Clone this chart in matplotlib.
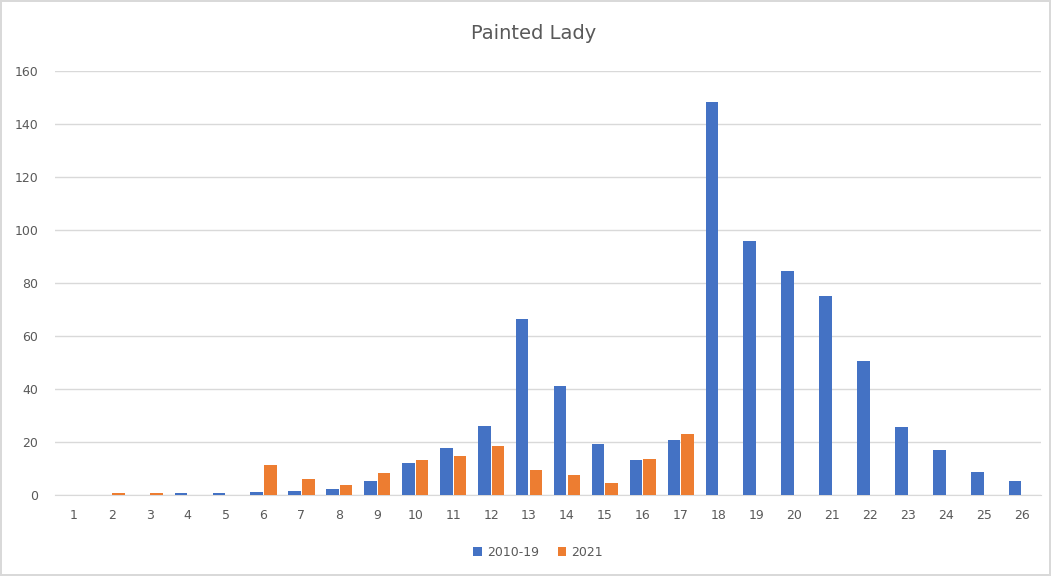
import matplotlib.pyplot as plt
import numpy as np

weeks = [str(i) for i in range(1, 27)]
avg_2010_19 = [0, 0, 0, 0.8, 0.8, 1.2, 1.6, 2.1, 5.2, 12.2, 17.9, 25.9, 66.5, 41.0,
               19.3, 13.2, 20.8, 148.2, 95.9, 84.7, 75.2, 50.5, 25.8, 16.8, 8.8, 5.3]
year_2021 = [0, 0.8, 0.8, 0, 0, 11.3, 6.2, 3.6, 8.2, 13.2, 14.9, 18.4, 9.6, 7.7,
             4.7, 13.7, 23.2, 0, 0, 0, 0, 0, 0, 0, 0, 0]

blue = "#4472C4"
orange = "#ED7D31"
grey = "#595959"

fig = plt.figure(figsize=(10.51, 5.76), dpi=100)
fig.patch.set_edgecolor("#d9d9d9")
fig.patch.set_linewidth(1.5)
ax = fig.add_axes([0.0523, 0.1406, 0.9382, 0.7361])

x = np.arange(len(weeks))
w = 0.33
ax.bar(x - 0.18, avg_2010_19, w, color=blue, label="2010-19", zorder=3)
ax.bar(x + 0.18, year_2021, w, color=orange, label="2021", zorder=3)

ax.set_xlim(-0.5, len(weeks) - 0.5)
ax.set_ylim(0, 160)
ax.set_yticks(range(0, 161, 20))
ax.set_xticks(x)
ax.set_xticklabels(weeks)
ax.grid(axis="y", color="#d9d9d9", linewidth=1, zorder=0)
for s in ["top", "right", "left"]:
    ax.spines[s].set_visible(False)
ax.spines["bottom"].set_color("#d9d9d9")
ax.tick_params(length=0, labelsize=9, labelcolor=grey)
ax.tick_params(axis="x", pad=10)
ax.tick_params(axis="y", pad=12)

ax.set_title("Painted Lady", fontsize=14, color=grey, pad=23, x=0.485)
fig.legend(loc="lower center", bbox_to_anchor=(0.512, 0.01), ncol=2, frameon=False,
           fontsize=9, labelcolor=grey, handlelength=0.7, handleheight=0.7,
           columnspacing=1.5, handletextpad=0.4)

fig.savefig("out.png", dpi=100)
